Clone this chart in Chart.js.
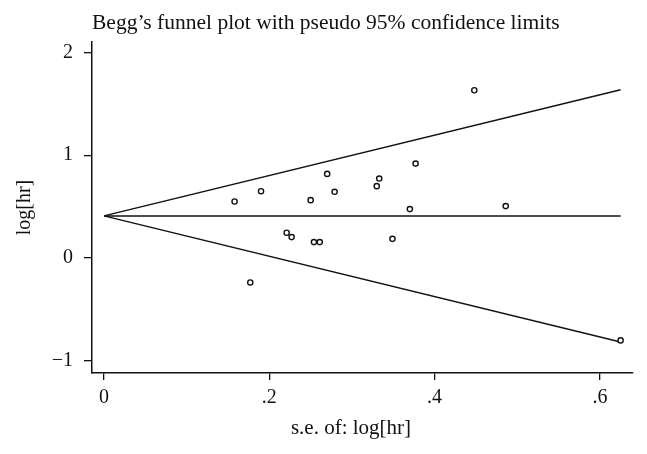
<!DOCTYPE html>
<html>
<head>
<meta charset="utf-8">
<script src="https://cdn.jsdelivr.net/npm/chart.js@4/dist/chart.umd.min.js"></script>
<style>
  html, body { margin: 0; padding: 0; background: #fff; }
  #wrap { width: 647px; height: 454px; }
</style>
</head>
<body>
<div id="wrap"><canvas id="c" width="647" height="454"></canvas></div>
<script>
// ---- data ----
const titleText = "Begg\u2019s funnel plot with pseudo 95% confidence limits";
const xAxisTitle = "s.e. of: log[hr]";
const yAxisTitle = "log[hr]";

// study standard errors (x) and log hazard ratios (y)
const studySE  = [0.448, 0.158, 0.190, 0.270, 0.279, 0.250, 0.221, 0.227, 0.254, 0.261, 0.177, 0.377, 0.333, 0.330, 0.370, 0.486, 0.349, 0.625];
const studyLogHR = [1.631, 0.550, 0.650, 0.818, 0.644, 0.563, 0.246, 0.204, 0.155, 0.155, -0.237, 0.918, 0.773, 0.699, 0.476, 0.505, 0.187, -0.800];

// funnel (pseudo 95% limits) end points
const limitSE    = [0, 0.625];
const upperLimit = [0.41, 1.635];
const centerLine = [0.41, 0.41];
const lowerLimit = [0.41, -0.815];

// tick labels
const xTickValues = [0, 0.2, 0.4, 0.6];
const xTickLabels = ["0", ".2", ".4", ".6"];
const yTickValues = [-1, 0, 1, 2];
const yTickLabels = ["\u22121", "0", "1", "2"];

const FONT = "'Liberation Serif', 'DejaVu Serif', serif";

const toPts = (xs, ys) => xs.map((x, i) => ({ x: x, y: ys[i] }));

const lineStyle = {
  showLine: true, borderColor: '#111', borderWidth: 1.5, pointRadius: 0,
  pointHoverRadius: 0, fill: false, tension: 0
};

const textPlugin = {
  id: 'texts',
  afterDraw(chart) {
    const ctx = chart.ctx, a = chart.chartArea;
    ctx.save();
    ctx.fillStyle = '#111';
    ctx.textAlign = 'left';
    ctx.textBaseline = 'alphabetic';
    ctx.font = "21.5px " + FONT;
    ctx.fillText(titleText, a.left, 29);
    ctx.textAlign = 'center';
    ctx.font = "21px " + FONT;
    ctx.fillText(xAxisTitle, 351, 434);
    ctx.restore();
  }
};

new Chart(document.getElementById('c'), {
  type: 'scatter',
  data: {
    datasets: [
      Object.assign({ data: toPts(limitSE, upperLimit), order: 2 }, lineStyle),
      Object.assign({ data: toPts(limitSE, centerLine), order: 2 }, lineStyle),
      Object.assign({ data: toPts(limitSE, lowerLimit), order: 2 }, lineStyle),
      {
        data: toPts(studySE, studyLogHR), order: 1,
        pointStyle: 'circle', pointRadius: 2.6, borderWidth: 1.4,
        borderColor: '#111', backgroundColor: '#fff', showLine: false
      }
    ]
  },
  plugins: [textPlugin],
  options: {
    responsive: false,
    animation: false,
    layout: { padding: { top: 42, right: 14, left: 0, bottom: 0 } },
    plugins: { legend: { display: false }, tooltip: { enabled: false }, title: { display: false } },
    scales: {
      x: {
        type: 'linear', min: -0.0145, max: 0.64,
        afterBuildTicks: s => { s.ticks = xTickValues.map(v => ({ value: v })); },
        afterFit: s => { s.height = 81; },
        ticks: {
          color: '#111', font: { family: FONT, size: 20 }, padding: 6, maxRotation: 0,
          callback: v => xTickLabels[xTickValues.indexOf(v)]
        },
        grid: { display: true, drawOnChartArea: false, drawTicks: true, tickLength: 7, color: '#111', lineWidth: 1.3 },
        border: { display: true, color: '#111', width: 1.5 }
      },
      y: {
        type: 'linear', min: -1.117, max: 2.1,
        afterBuildTicks: s => { s.ticks = yTickValues.map(v => ({ value: v })); },
        afterFit: s => { s.width = 92; },
        ticks: {
          color: '#111', font: { family: FONT, size: 20 }, padding: 11,
          callback: v => yTickLabels[yTickValues.indexOf(v)]
        },
        title: { display: true, text: yAxisTitle, color: '#111', font: { family: FONT, size: 20 }, padding: { top: 13, bottom: 0 } },
        grid: { display: true, drawOnChartArea: false, drawTicks: true, tickLength: 8, color: '#111', lineWidth: 1.3 },
        border: { display: true, color: '#111', width: 1.5 }
      }
    }
  }
});
</script>
</body>
</html>
